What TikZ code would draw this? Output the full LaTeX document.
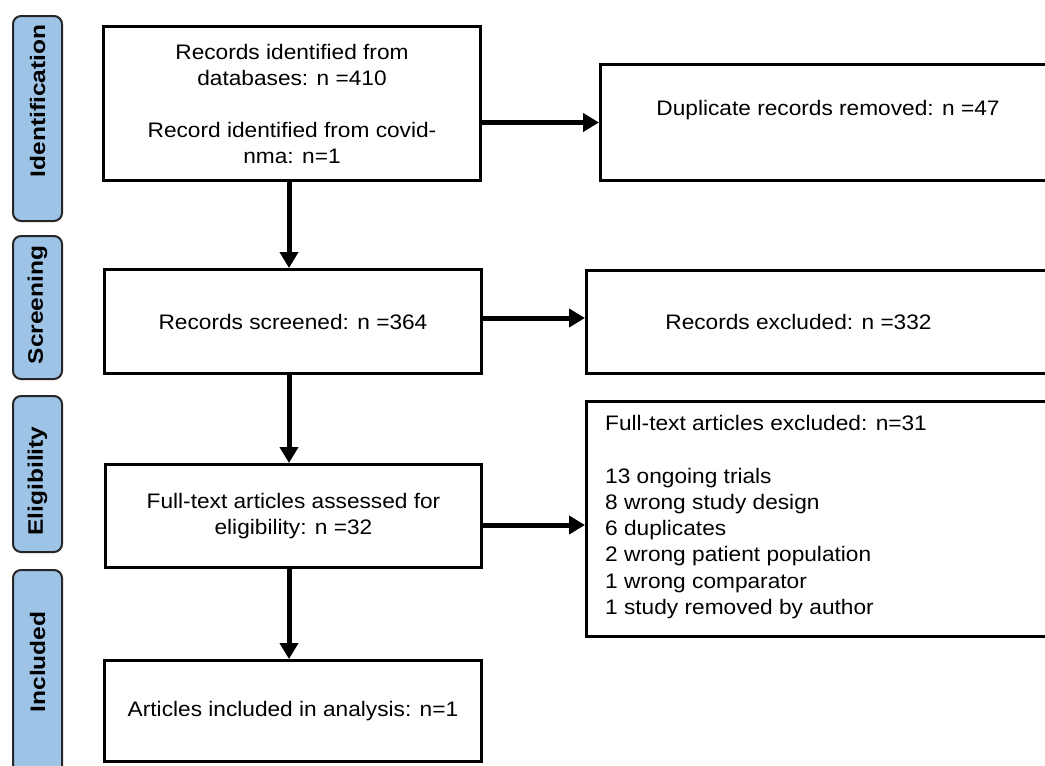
\documentclass[tikz,border=0pt]{standalone}
\usepackage{fontspec}
\setmainfont{Liberation Sans}[FakeStretch=1.08]
\usetikzlibrary{arrows.meta}
\definecolor{phaseblue}{RGB}{157,195,230}
\begin{document}
\begin{tikzpicture}[x=1pt,y=-1pt,
  box/.style={draw=black, line width=3pt, fill=white, inner sep=0pt},
  txt/.style={font=\fontsize{21}{26}\selectfont, inner sep=0pt, align=center},
  phase/.style={draw=black!85, line width=2pt, fill=phaseblue, rounded corners=8pt, inner sep=0pt},
  phasetxt/.style={font=\fontsize{21}{21}\selectfont\bfseries, rotate=90, inner sep=0pt},
  arr/.style={line width=5pt, -{Triangle[length=16pt,width=18pt]}}
]
\useasboundingbox (0,0) rectangle (1045,766);
\clip (0,0) rectangle (1045,766);
\fill[white] (0,0) rectangle (1045,766);

% phase labels
\node[phase, minimum width=49pt, minimum height=205pt] (p1) at (37.5,118.5) {};
\node[phase, minimum width=49pt, minimum height=143pt] (p2) at (37.5,307.5) {};
\node[phase, minimum width=49pt, minimum height=156pt] (p3) at (37.5,474) {};
\node[phase, minimum width=49pt, minimum height=220pt] (p4) at (37.5,680) {};
\node[phasetxt] (p1t) at (37.5,101) {\scalebox{1.08}[1]{Identification}};
\node[phasetxt] (p2t) at (37.5,305) {\scalebox{1.08}[1]{Screening}};
\node[phasetxt] (p3t) at (37.5,481) {\scalebox{1.08}[1]{Eligibility}};
\node[phasetxt] (p4t) at (37.5,662) {\scalebox{1.08}[1]{Included}};

% main boxes
\node[box, txt, minimum width=377pt, minimum height=154pt] (b1) at (292,103.5)
  {Records identified from\\databases: n =410\\[26pt]Record identified from covid-\\nma: n=1};
\node[box, txt, minimum width=377pt, minimum height=104pt] (b2) at (293,321.5)
  {Records screened: n =364};
\node[box, txt, minimum width=376pt, minimum height=103pt] (b3) at (293.5,516)
  {Full-text articles assessed for\\eligibility: n =32};
\node[box, txt, minimum width=377pt, minimum height=101pt] (b4) at (293,711)
  {Articles included in analysis: n=1};

% side boxes
\node[box, minimum width=459.5pt, minimum height=116pt] (dup) at (830.25,122.5) {};
\node[txt] (dupt) at (828,110) {Duplicate records removed: n =47};
\node[box, minimum width=473.5pt, minimum height=103pt] (excl) at (823.25,322) {};
\node[txt] (exclt) at (798.5,322) {Records excluded: n =332};
\node[box, minimum width=473.5pt, minimum height=235pt] (ft) at (823.25,519) {};
\node[txt, align=left, anchor=north west, font=\fontsize{21}{26.3}\selectfont] (ftt) at (605,415)
  {Full-text articles excluded: n=31\\[26.3pt]13 ongoing trials\\8 wrong study design\\6 duplicates\\2 wrong patient population\\1 wrong comparator\\1 study removed by author};

% arrows
\draw[arr] (b1.east |- dup.west) -- (dup.west);
\draw[arr] ([xshift=-3pt]b1.south) -- ([xshift=-3pt]b1.south |- b2.north);
\draw[arr] ([yshift=3.5pt]b2.east) -- ([yshift=3.5pt]b2.east -| excl.west);
\draw[arr] ([xshift=-4pt]b2.south) -- ([xshift=-4pt]b2.south |- b3.north);
\draw[arr] ([yshift=-9pt]b3.east) -- ([yshift=-9pt]b3.east -| ft.west);
\draw[arr] ([xshift=-4.5pt]b3.south) -- ([xshift=-4.5pt]b3.south |- b4.north);
\end{tikzpicture}
\end{document}
